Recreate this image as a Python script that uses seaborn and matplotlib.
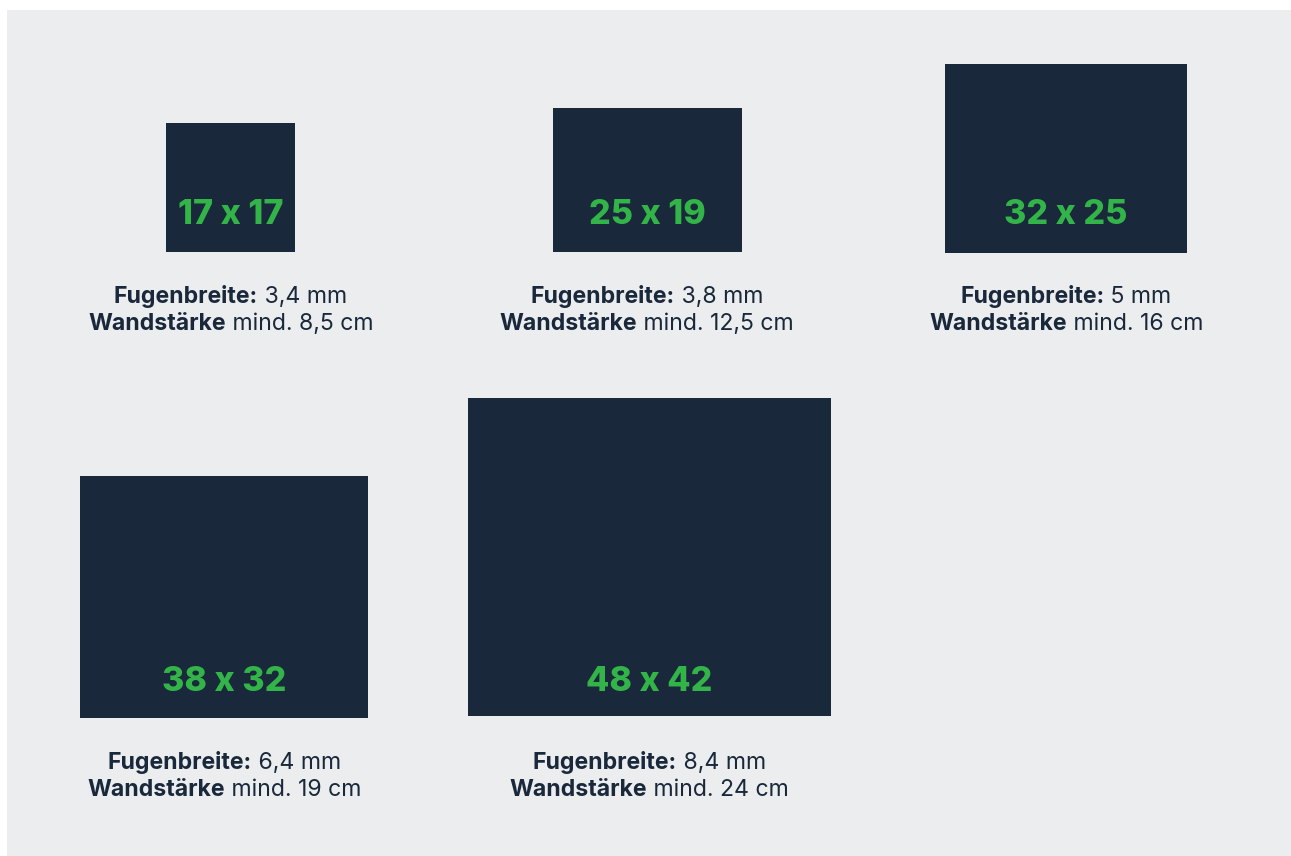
import seaborn as sns
import matplotlib.pyplot as plt
import numpy as np

# Steinformate (Breite x Höhe in cm) und Angaben darunter
formate = ['17 x 17', '25 x 19', '32 x 25', '38 x 32', '48 x 42']
breite_cm = [17, 25, 32, 38, 48]
hoehe_cm = [17, 19, 25, 32, 42]
fugenbreite = ['3,4 mm', '3,8 mm', '5 mm', '6,4 mm', '8,4 mm']
wandstaerke = ['mind. 8,5 cm', 'mind. 12,5 cm', 'mind. 16 cm', 'mind. 19 cm', 'mind. 24 cm']

# Layout in Pixeln (Mitte x, Unterkante y, Label y, Text y)
mitte_px = [230.5, 647, 1066, 224, 649.5]
unten_px = [251.5, 251.5, 252.5, 718, 715.5]
label_px = [215, 215, 215, 682, 682]
text_px = [297, 297, 297, 763, 763]

navy = '#19283a'
gruen = '#33b449'
grau = '#ecedef'
px_pro_cm = 7.56
W, H = 1291, 856

sns.set_theme(style='white')
plt.rcParams['font.family'] = ['Inter', 'DejaVu Sans']

fig = plt.figure(figsize=(W / 100, H / 100), dpi=100, facecolor='white')
ax = fig.add_axes([7 / W, 0, (W - 7) / W, (H - 10) / H])
ax.set_facecolor(grau)
ax.set_xlim(7 / px_pro_cm, W / px_pro_cm)
ax.set_ylim(0, (H - 10) / px_pro_cm)
ax.set_xticks([])
ax.set_yticks([])
sns.despine(ax=ax, left=True, bottom=True)


def to_cm_x(px):
    return px / px_pro_cm


def to_cm_y(px):
    return (H - px) / px_pro_cm


x_cm = [to_cm_x(p) for p in mitte_px]
y_cm = [to_cm_y(p) for p in unten_px]

ax.bar(x_cm, hoehe_cm, width=breite_cm, bottom=y_cm,
       color=navy, linewidth=0, align='center')

renderer = fig.canvas.get_renderer()


def zeile(x, y, fett, normal):
    # fetter Teil + normaler Teil, zusammen zentriert
    t1 = ax.text(x, y, fett, fontsize=16.6, fontweight='bold', color=navy,
                 ha='left', va='center')
    t2 = ax.annotate(normal, xy=(1, 0.5), xycoords=t1, fontsize=16.6,
                     color=navy, ha='left', va='center')
    b1 = t1.get_window_extent(renderer)
    b2 = t2.get_window_extent(renderer)
    breite = (b2.x1 - b1.x0) / px_pro_cm
    t1.set_x(x - breite / 2)


for i in range(len(formate)):
    ax.text(x_cm[i], to_cm_y(label_px[i]), formate[i], fontsize=24.5,
            fontweight='heavy', color=gruen, ha='center', va='center')
    zeile(x_cm[i], to_cm_y(text_px[i]), 'Fugenbreite:', ' ' + fugenbreite[i])
    zeile(x_cm[i], to_cm_y(text_px[i] + 27), 'Wandstärke', ' ' + wandstaerke[i])

fig.savefig('out.png', dpi=100, facecolor='white')
